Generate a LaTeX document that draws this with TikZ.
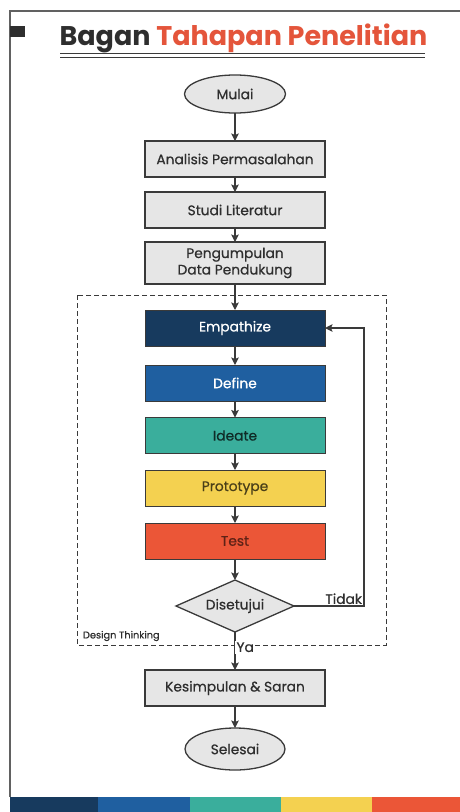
\documentclass[tikz,border=0pt]{standalone}
\usepackage{fontspec}
\setmainfont{Poppins}
\newfontfamily\medfont{Poppins}[FakeBold=0.6]
\usetikzlibrary{positioning,shapes.geometric,arrows.meta}

\definecolor{ink}{HTML}{2E2E2E}
\definecolor{accent}{HTML}{E4553B}
\definecolor{boxgray}{HTML}{E6E6E6}
\definecolor{edge}{HTML}{3A3A3A}
\definecolor{dtNavy}{HTML}{173A5E}
\definecolor{dtBlue}{HTML}{1F5FA0}
\definecolor{dtTeal}{HTML}{3AAE9C}
\definecolor{dtYellow}{HTML}{F4D150}
\definecolor{dtRed}{HTML}{EB5637}

\begin{document}
\begin{tikzpicture}[x=1pt, y=-1pt,
        node distance=17pt, % most gaps between the blocks
        every node/.style={font=\medfont\fontsize{13.8}{16}\selectfont, text=ink, outer sep=0pt},
        proc/.style={draw=edge, fill=boxgray, line width=1.3pt, minimum width=180pt, minimum height=36pt, align=center, inner sep=2pt},
        term/.style={ellipse, draw=edge, fill=boxgray, line width=1.3pt, minimum width=101pt, minimum height=38pt, inner sep=0pt},
        phase/.style={draw=edge, line width=0.8pt, minimum width=180pt, minimum height=36pt, inner sep=2pt},
        decide/.style={diamond, draw=edge, fill=boxgray, line width=1.3pt, aspect=2.27, minimum width=118pt, minimum height=52pt, inner sep=0pt},
        link/.style={draw=edge, line width=1.3pt, -{Stealth[length=7.5pt, width=7.5pt, inset=1.5pt]}}
      ]
      \useasboundingbox (0,0) rectangle (460,812);

      % Frame, marker and title
      \draw[edge!80, line width=1.2pt] (460,11) -- (10,11) -- (10,797);
      \fill[ink] (10,26) rectangle (25,37);
      \node[font=\normalfont\fontsize{27}{32}\selectfont\bfseries] (title) at (243.5,38.5) {Bagan \textcolor{accent}{Tahapan Penelitian}};
      \draw[edge, line width=0.8pt] (60,53.5) -- (425,53.5);
      \draw[edge, line width=1.6pt] (60,57.5) -- (425,57.5);

      % Nodes
      \node[term] (mulai) at (235,94) {Mulai};
      \node[proc, below=28pt of mulai] (analisis) {Analisis Permasalahan};
      \node[proc, below=15pt of analisis] (studi) {Studi Literatur};
      \node[proc, below=14pt of studi, minimum height=42pt, font=\medfont\fontsize{13.8}{16.5}\selectfont] (data) {Pengumpulan\\Data Pendukung};
      \node[phase, fill=dtNavy, text=white, below=26pt of data] (empathize) {Empathize};
      \node[phase, fill=dtBlue, text=white, below=19pt of empathize] (define) {Define};
      \node[phase, fill=dtTeal, text=black!75!dtTeal, below=16.5pt of define] (ideate) {Ideate};
      \node[phase, fill=dtYellow, text=black!70!dtYellow, below=16.5pt of ideate] (prototype) {Prototype};
      \node[phase, fill=dtRed, text=black!60!dtRed, below=of prototype] (test) {Test};
      \node[decide, below=21pt of test] (setuju) {Disetujui};
      \node[proc, below=38pt of setuju] (simpulan) {Kesimpulan \& Saran};
      \node[term, below=22pt of simpulan, minimum width=100pt, minimum height=42pt] (selesai) {Selesai};

      % Design Thinking frame
      \draw[edge, line width=1pt, dashed, dash pattern=on 5pt off 3pt] (77,295) rectangle (386,645);
      \node[anchor=west, inner sep=0pt, font=\medfont\fontsize{9.8}{11}\selectfont] (dtlabel) at (83,636) {Design Thinking};

      % Edges
      \draw[link] (mulai) -- (analisis);
      \draw[link] (analisis) -- (studi);
      \draw[link] (studi) -- (data);
      \draw[link] (data) -- (empathize);
      \draw[link] (empathize) -- (define);
      \draw[link] (define) -- (ideate);
      \draw[link] (ideate) -- (prototype);
      \draw[link] (prototype) -- (test);
      \draw[link] (test) -- (setuju);
      \draw[link] (setuju) -- node[pos=0.4, right, fill=white, inner sep=1.5pt] (ya) {Ya} (simpulan);
      \draw[link] (simpulan) -- (selesai);
      \draw[link] (setuju.east) -- ++(70,0) node[above left, inner sep=2pt] (tidak) {Tidak} |- (empathize.east);

      % Colour bar
      \fill[dtNavy] (10,797) rectangle (98,812);
      \fill[dtBlue] (98,797) rectangle (190,812);
      \fill[dtTeal] (190,797) rectangle (281,812);
      \fill[dtYellow] (281,797) rectangle (372,812);
      \fill[dtRed] (372,797) rectangle (460,812);

    \end{tikzpicture}
\end{document}
